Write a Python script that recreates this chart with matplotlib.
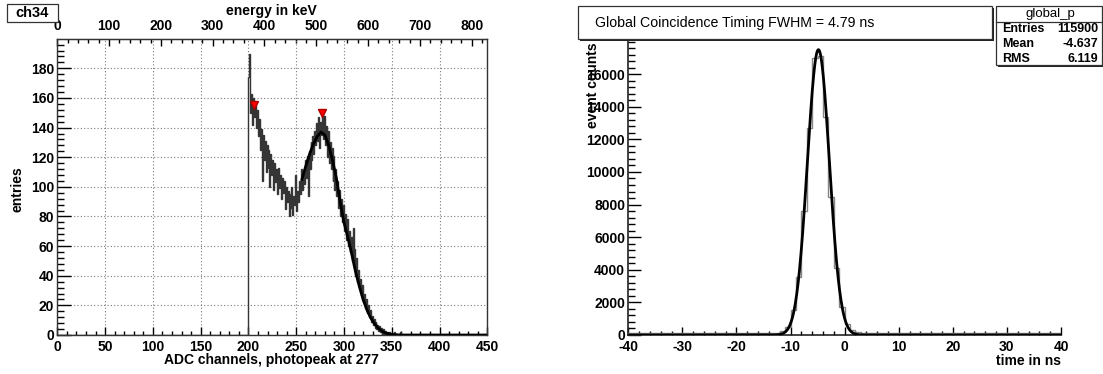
import numpy as np
import matplotlib
matplotlib.use("Agg")
import matplotlib.pyplot as plt
from matplotlib.patches import Rectangle
from matplotlib.ticker import MultipleLocator, FixedLocator

W, H = 1103, 374
plt.rcParams["font.family"] = ["Liberation Sans", "DejaVu Sans"]
plt.rcParams["axes.unicode_minus"] = False

# ---------------- ch34 energy spectrum ----------------
adc_first_channel = 200
adc_counts = [
    174, 190, 150, 163, 142, 160, 147, 155, 140, 152,   # 200-209
    134, 146, 125, 139, 104, 135, 118, 131, 110, 128,   # 210-219
    113, 125, 100, 122, 108, 118, 98, 116, 103, 112,    # 220-229
    95, 113, 99, 108, 92, 106, 96, 104, 85, 100,        # 230-239
    90, 97, 80, 95, 86, 100, 81, 94, 88, 108,           # 240-249
    84, 97, 90, 104, 95, 112, 98, 110, 102, 118,        # 250-259
    106, 121, 94, 124, 112, 130, 118, 134, 122, 138,    # 260-269
    128, 143, 131, 147, 126, 144, 135, 150, 132, 148,   # 270-279
    128, 141, 120, 138, 116, 130, 112, 126, 104, 121,   # 280-289
    98, 112, 94, 104, 86, 98, 80, 92, 76, 88,           # 290-299
    70, 82, 64, 78, 60, 70, 56, 66, 50, 72,             # 300-309
    46, 58, 40, 52, 36, 44, 32, 38, 27, 34,             # 310-319
    22, 28, 18, 24, 15, 20, 12, 17, 9, 13,              # 320-329
    7, 11, 5, 9, 4, 7, 3, 6, 2, 5,                      # 330-339
    1, 4, 1, 3, 0, 2, 1, 2, 0, 1,                       # 340-349
    0, 1, 2, 0, 1, 0, 0, 1, 0, 2,                       # 350-359
]
fit_channels = [256, 260, 264, 268, 272, 276, 280, 284, 288, 292, 296, 300,
                304, 308, 312, 316, 320, 324, 328, 332, 336, 340, 344, 348,
                352, 356, 360, 450]
fit_counts = [105, 114, 122, 129, 134, 137, 135, 128, 118, 106, 90, 76,
              66, 55, 43, 33, 24, 17, 11.5, 7.5, 4.5, 2.5, 1.3, 0.7,
              0.3, 0.1, 0.0, 0.0]
peak_channels = [206, 277]
peak_heights = [155, 150]
photopeak_channel = 277
photopeak_kev = 511
adc_ticks_major, adc_ticks_minor = 50, 10
kev_ticks_major, kev_ticks_minor = 100, 20

# ---------------- global coincidence timing ----------------
time_lo, time_hi = -40, 40
time_counts = [
    95, 110, 102, 98, 105, 100, 96, 108, 101, 97,         # -40 .. -31
    104, 99, 106, 100, 95, 103, 98, 107, 102, 96,         # -30 .. -21
    105, 100, 110, 104, 112, 118, 125, 150, 230, 480,     # -20 .. -11
    1530, 3570, 7620, 12670, 16960, 17100, 13380, 8480, 4130, 1740,  # -10 .. -1
    650, 280, 160, 120, 105, 98, 102, 96, 100, 104,       # 0 .. 9
    99, 95, 101, 97, 103, 100, 96, 102, 98, 101,          # 10 .. 19
    97, 103, 99, 95, 100, 104, 98, 96, 101, 99,           # 20 .. 29
    102, 97, 100, 95, 103, 99, 96, 101, 98, 100,          # 30 .. 39
]
count_ticks = list(range(0, 16001, 2000))
fit_peak = 17500
fit_mean = -4.85
fwhm_ns = 4.79
stat_entries = 115900
stat_mean = -4.637
stat_rms = 6.119


def fx(x):
    return x / W


def fy(y):
    return 1 - y / H


def box(fig, x0, y0, x1, y1, shadow=2.0, lw=0.9):
    if shadow:
        fig.patches.append(Rectangle((fx(x0 + shadow), fy(y1 + shadow)),
                                     (x1 - x0) / W, (y1 - y0) / H,
                                     transform=fig.transFigure,
                                     facecolor="#222222", edgecolor="none",
                                     zorder=1))
    fig.patches.append(Rectangle((fx(x0), fy(y1)), (x1 - x0) / W,
                                 (y1 - y0) / H, transform=fig.transFigure,
                                 facecolor="white", edgecolor="#333333",
                                 lw=lw, zorder=2))


fig = plt.figure(figsize=(W / 100, H / 100), dpi=100)

# ---------------- left pad ----------------
ax1 = fig.add_axes([fx(57.3), fy(335), (487.3 - 57.3) / W, (335 - 39.3) / H])
edges = np.arange(0, 451)
counts = np.zeros(450)
counts[adc_first_channel:adc_first_channel + len(adc_counts)] = adc_counts
ax1.stairs(counts, edges, color="#353535", lw=1.0, zorder=4)
ax1.plot(fit_channels, fit_counts, color="black", lw=2.0, zorder=5)
ax1.plot(peak_channels, peak_heights, "v", color="red", mec="#b00000",
         ms=6, zorder=6)

ax1.set_xlim(0, 450)
ax1.set_ylim(0, 199.6)
ax1.xaxis.set_major_locator(MultipleLocator(adc_ticks_major))
ax1.xaxis.set_minor_locator(MultipleLocator(adc_ticks_minor))
ax1.yaxis.set_major_locator(MultipleLocator(20))
ax1.yaxis.set_minor_locator(MultipleLocator(4))
ax1.grid(True, which="major", color="#7a7a7a", lw=0.8, ls=(0, (1, 2)))
ax1.set_axisbelow(True)
ax1.tick_params(axis="x", which="major", direction="in", length=5.8,
                width=1, pad=3.5, labelsize=10)
ax1.tick_params(axis="x", which="minor", direction="in", length=2.6, width=1)
ax1.tick_params(axis="y", which="major", direction="in", length=10,
                width=1, pad=2.2, labelsize=10)
ax1.tick_params(axis="y", which="minor", direction="in", length=4.8, width=1)
for lab in ax1.get_xticklabels() + ax1.get_yticklabels():
    lab.set_fontweight("bold")
for sp in ax1.spines.values():
    sp.set_color("#333333")
    sp.set_linewidth(1.0)

scale = photopeak_kev / photopeak_channel
top = ax1.secondary_xaxis("top", functions=(lambda c: c * scale,
                                            lambda e: e / scale))
top.xaxis.set_major_locator(MultipleLocator(kev_ticks_major))
top.xaxis.set_minor_locator(MultipleLocator(kev_ticks_minor))
top.tick_params(axis="x", which="major", direction="in", length=5,
                width=1, pad=4.3, labelsize=10)
top.tick_params(axis="x", which="minor", direction="in", length=2.9, width=1)
for lab in top.get_xticklabels():
    lab.set_fontweight("bold")

fig.text(fx(271.7), fy(10.5), "energy in keV", ha="center", va="center",
         fontsize=10, fontweight="bold")
fig.text(fx(271.5), fy(360), "ADC channels, photopeak at %d" % photopeak_channel,
         ha="center", va="center", fontsize=10, fontweight="bold")
fig.text(fx(17.5), fy(189), "entries", ha="center", va="center",
         rotation=90, fontsize=10, fontweight="bold")

box(fig, 7, 4, 58, 21.5, shadow=1.2)
fig.text(fx(32.5), fy(13), "ch34", ha="center", va="center",
         fontsize=10.5, fontweight="bold", zorder=3)

# ---------------- right pad ----------------
ax2 = fig.add_axes([fx(628.3), fy(335), (1061 - 628.3) / W, (335 - 40.7) / H])
t_edges = np.arange(time_lo, time_hi + 1)
ax2.stairs(time_counts, t_edges, color="#858585", lw=1.0, zorder=3)
sigma = fwhm_ns / (2 * np.sqrt(2 * np.log(2)))
tt = np.linspace(time_lo, time_hi, 1601)
ax2.plot(tt, fit_peak * np.exp(-0.5 * ((tt - fit_mean) / sigma) ** 2),
         color="black", lw=2.0, zorder=4)
ax2.set_xlim(time_lo, time_hi)
ax2.set_ylim(0, 18050)
ax2.xaxis.set_major_locator(MultipleLocator(10))
ax2.xaxis.set_minor_locator(MultipleLocator(2))
ax2.yaxis.set_major_locator(FixedLocator(count_ticks))
ax2.yaxis.set_minor_locator(MultipleLocator(400))
ax2.spines["top"].set_visible(False)
ax2.spines["right"].set_visible(False)
for sp in ("left", "bottom"):
    ax2.spines[sp].set_color("#222222")
    ax2.spines[sp].set_linewidth(1.2)
ax2.tick_params(axis="x", which="major", direction="in", length=5.8,
                width=1, pad=3.5, labelsize=10)
ax2.tick_params(axis="x", which="minor", direction="in", length=2.9, width=1)
ax2.tick_params(axis="y", which="major", direction="in", length=9,
                width=1, pad=2.2, labelsize=10)
ax2.tick_params(axis="y", which="minor", direction="in", length=4.8, width=1)
for lab in ax2.get_xticklabels() + ax2.get_yticklabels():
    lab.set_fontweight("bold")

fig.text(fx(1061), fy(361), "time in ns", ha="right", va="center",
         fontsize=10, fontweight="bold")
fig.text(fx(593), fy(42), "event counts", ha="center", va="top",
         rotation=90, fontsize=10, fontweight="bold", zorder=5)

box(fig, 578, 6, 992, 39, shadow=2.0)
fig.text(fx(595), fy(22.5),
         "Global Coincidence Timing FWHM = %.2f ns" % fwhm_ns,
         ha="left", va="center", fontsize=10.2, zorder=3)

# statistics box
box(fig, 996, 6, 1102, 65, shadow=2.0)
fig.lines.append(plt.Line2D([fx(996), fx(1102)], [fy(21.7), fy(21.7)],
                            transform=fig.transFigure, color="#333333",
                            lw=0.9, zorder=3))
fig.text(fx(1050), fy(14.2), "global_p", ha="center", va="center",
         fontsize=9.5, zorder=3)
rows = [("Entries", "%d" % stat_entries),
        ("Mean", "%.3f" % stat_mean),
        ("RMS", "%.3f" % stat_rms)]
for i, (name, val) in enumerate(rows):
    yy = 29.3 + 14.8 * i
    fig.text(fx(1001.7), fy(yy), name, ha="left", va="center",
             fontsize=9, fontweight="bold", zorder=3)
    fig.text(fx(1098.5), fy(yy), val, ha="right", va="center",
             fontsize=9, fontweight="bold", zorder=3)

fig.savefig("out.png", dpi=100)
